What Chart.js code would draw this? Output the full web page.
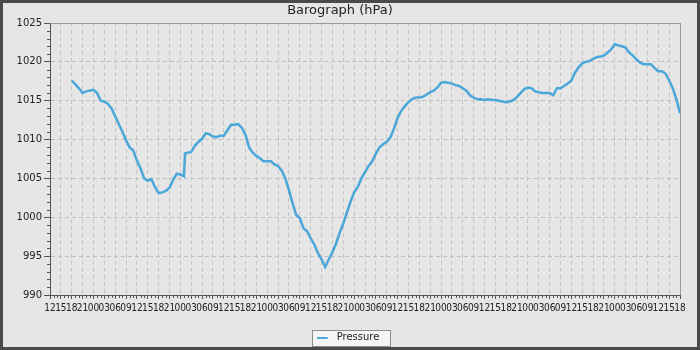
<!DOCTYPE html>
<html><head><meta charset="utf-8">
<script src="https://cdn.jsdelivr.net/npm/chart.js@4.4.0/dist/chart.umd.min.js"></script>
<style>html,body{margin:0;padding:0;background:#e6e6e6;}canvas{display:block;}</style>
</head><body>
<canvas id="c" width="700" height="350"></canvas>
<script>
const hourLabels = ['12','15','18','21','00','03','06','09'];
const hours = [6,7,8,9,10,11,12,13,14,15,16,17,18,19,20,21,22,23,24,25,26,27,28,29,30,31,32,33,34,35,36,37,37.3,38,39,40,41,42,43,44,45,46,47,48,49,50,51,52,53,54,55,56,57,58,59,60,61,62,63,64,65,66,67,68,69,70,71,72,73,74,75,76,77,78,79,80,81,82,83,84,85,86,87,88,89,90,91,92,93,94,95,96,97,98,99,100,101,102,103,104,105,106,107,108,109,110,111,112,113,114,115,116,117,118,119,120,121,122,123,124,125,126,127,128,129,130,131,132,133,134,135,136,137,138,139,140,141,142,143,144,145,146,147,148,149,150,151,152,153,154,155,156,157,158,159,160,161,162,163,164,165,166,167,168,169,170,171,172,173,174];
const pressure = [1017.6,1017.1,1016.6,1016.0,1016.2,1016.3,1016.4,1016.0,1015.0,1014.9,1014.6,1014.0,1013.0,1012.0,1011.0,1009.9,1009.0,1008.6,1007.3,1006.3,1005.0,1004.7,1004.9,1003.9,1003.1,1003.2,1003.4,1003.8,1004.8,1005.6,1005.5,1005.3,1008.2,1008.3,1008.4,1009.2,1009.7,1010.1,1010.8,1010.7,1010.4,1010.3,1010.5,1010.5,1011.2,1011.9,1011.9,1012.0,1011.5,1010.6,1009.0,1008.3,1007.9,1007.6,1007.2,1007.2,1007.2,1006.8,1006.6,1006.0,1005.0,1003.5,1001.8,1000.3,999.9,998.6,998.2,997.3,996.5,995.4,994.6,993.6,994.6,995.5,996.6,998.0,999.2,1000.6,1002.0,1003.2,1003.9,1005.0,1005.8,1006.6,1007.2,1008.2,1009.0,1009.4,1009.7,1010.3,1011.4,1012.8,1013.7,1014.3,1014.8,1015.2,1015.4,1015.4,1015.5,1015.8,1016.1,1016.3,1016.7,1017.3,1017.4,1017.3,1017.2,1017.0,1016.9,1016.6,1016.3,1015.7,1015.4,1015.2,1015.2,1015.1,1015.2,1015.1,1015.1,1015.0,1014.9,1014.8,1014.9,1015.1,1015.5,1016.0,1016.5,1016.7,1016.6,1016.2,1016.1,1016.0,1016.0,1016.0,1015.7,1016.6,1016.6,1016.9,1017.2,1017.6,1018.6,1019.3,1019.8,1020.0,1020.1,1020.4,1020.6,1020.7,1020.8,1021.2,1021.6,1022.3,1022.1,1022.0,1021.8,1021.2,1020.8,1020.3,1019.9,1019.7,1019.7,1019.7,1019.2,1018.8,1018.8,1018.5,1017.6,1016.6,1015.2,1013.4];
const seriesName = 'Pressure';
const titleText = 'Barograph (hPa)';
const lineColor = '#4aa7d9';

const PLOT_BOTTOM = 295;
const LEGEND_DY = 2.5;
const LEGEND_DX = 8;

// legend marker: short line with trailing gap
const marker = document.createElement('canvas');
marker.width = 15; marker.height = 2;
(function () { const m = marker.getContext('2d'); m.fillStyle = lineColor; m.fillRect(0, 0, 11, 2); })();

const framePlugin = {
  id: 'frame',
  afterLayout(chart) {
    const lg = chart.legend;
    if (lg) {
      lg.top += LEGEND_DY; lg.bottom += LEGEND_DY;
      lg.left += LEGEND_DX; lg.right += LEGEND_DX;
    }
  },
  beforeDraw(chart) {
    const ctx = chart.ctx;
    ctx.save();
    ctx.fillStyle = '#e6e6e6';
    ctx.fillRect(0, 0, chart.width, chart.height);
    ctx.strokeStyle = '#4a4a4a';
    ctx.lineWidth = 3;
    ctx.strokeRect(1.5, 1.5, chart.width - 3, chart.height - 3);
    const lg = chart.legend;
    if (lg && lg.legendHitBoxes && lg.legendHitBoxes.length) {
      const hb = lg.legendHitBoxes[0];
      const l = Math.round(hb.left) - 4.5, r = Math.round(hb.left + hb.width) + 11.5;
      const t = 330.5, b = 346.5;
      ctx.fillStyle = '#f4f4f4';
      ctx.fillRect(l, t, r - l, b - t);
      ctx.strokeStyle = '#8c8c8c';
      ctx.lineWidth = 1;
      ctx.strokeRect(l, t, r - l, b - t);
    }
    ctx.restore();
  },
  afterDraw(chart) {
    const ctx = chart.ctx, a = chart.chartArea;
    const xs = chart.scales.x, ys = chart.scales.y;
    ctx.save();
    ctx.strokeStyle = '#999';
    ctx.lineWidth = 1;
    ctx.beginPath();
    ctx.moveTo(a.left, Math.round(a.top) + 0.5);
    ctx.lineTo(a.right, Math.round(a.top) + 0.5);
    ctx.moveTo(Math.round(a.right) + 0.5, a.top);
    ctx.lineTo(Math.round(a.right) + 0.5, a.bottom);
    ctx.stroke();
    ctx.strokeStyle = '#555';
    ctx.beginPath();
    for (let h = Math.ceil(xs.min); h <= xs.max; h++) {
      if (h % 3 === 0) continue;
      const px = Math.round(xs.getPixelForValue(h)) + 0.5;
      ctx.moveTo(px, a.bottom);
      ctx.lineTo(px, a.bottom + 3);
    }
    for (let v = Math.ceil(ys.min); v <= ys.max; v++) {
      if (v % 5 === 0) continue;
      const py = Math.round(ys.getPixelForValue(v)) + 0.5;
      ctx.moveTo(a.left - 3, py);
      ctx.lineTo(a.left, py);
    }
    ctx.stroke();
    ctx.restore();
  }
};

Chart.defaults.font.family = "'DejaVu Sans', sans-serif";
Chart.defaults.font.size = 10;
Chart.defaults.color = '#222';

new Chart(document.getElementById('c'), {
  type: 'line',
  data: {
    datasets: [{
      label: seriesName,
      data: hours.map((h, i) => ({ x: h, y: pressure[i] })),
      borderColor: lineColor,
      backgroundColor: lineColor,
      borderWidth: 2.5,
      pointRadius: 0,
      pointStyle: marker,
      tension: 0,
      fill: false
    }]
  },
  options: {
    responsive: false,
    animation: false,
    layout: { padding: { left: 0, right: 20, top: 0, bottom: 0 } },
    plugins: {
      title: {
        display: true, text: titleText, color: '#222',
        font: { size: 13, weight: 'normal' },
        padding: { top: 3, bottom: 4.4 }
      },
      legend: {
        display: true, position: 'bottom',
        labels: {
          color: '#222', font: { size: 10 },
          usePointStyle: true, pointStyleWidth: 15,
          boxHeight: 8, padding: 4
        }
      },
      tooltip: { enabled: false }
    },
    scales: {
      x: {
        type: 'linear', min: 0, max: 174,
        afterFit(scale) {
          const lh = scale.chart.legend ? scale.chart.legend.height : 0;
          scale.height = 350 - lh - PLOT_BOTTOM;
        },
        ticks: {
          stepSize: 3, autoSkip: false, maxRotation: 0, minRotation: 0,
          padding: 3, color: '#222',
          font: { family: "'DejaVu Sans Condensed', 'DejaVu Sans', sans-serif", size: 10 },
          callback: (v, i) => hourLabels[i % hourLabels.length]
        },
        grid: { color: '#c4c4c4', lineWidth: 1, tickLength: 4, tickColor: '#555' },
        border: { color: '#555', width: 1, dash: [4, 3] }
      },
      y: {
        min: 990, max: 1025,
        afterFit(scale) { scale.width = 50; },
        ticks: { stepSize: 5, padding: 2, color: '#222', font: { size: 10 },
          callback: (v) => String(v) },
        grid: { color: '#c0c0c0', lineWidth: 1, tickLength: 6, tickColor: '#555' },
        border: { color: '#555', width: 1, dash: [4, 3] }
      }
    }
  },
  plugins: [framePlugin]
});
</script>
</body></html>
